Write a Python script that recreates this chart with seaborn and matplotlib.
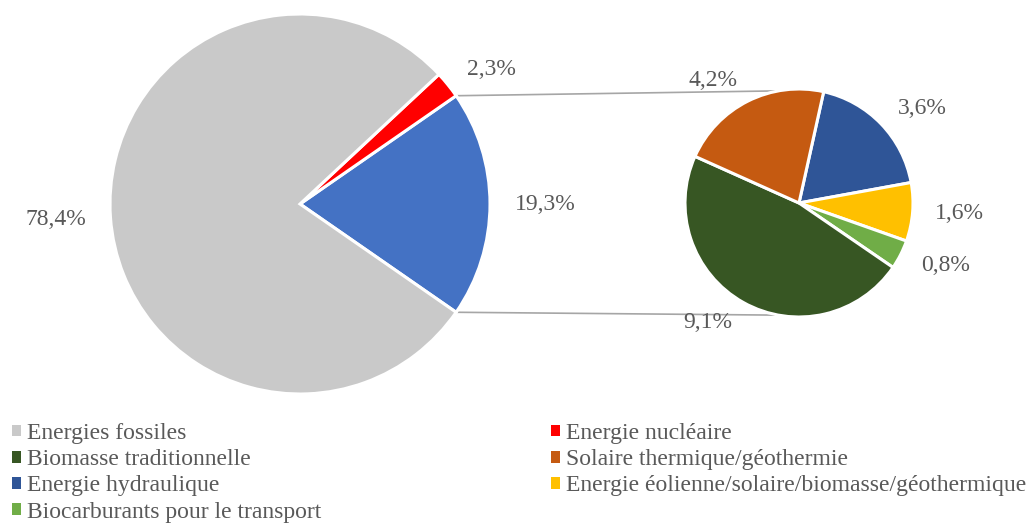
import numpy as np
import matplotlib.pyplot as plt
import seaborn as sns
from matplotlib.patches import Patch

# main pie (counterclockwise from the lower edge of the blue slice)
main_names = ["Autres renouvelables", "Energie nucléaire", "Energies fossiles"]
main_values = [19.3, 2.3, 78.4]
main_colors = ["#4472c4", "#ff0000", "#c9c9c9"]

# secondary pie (breakdown of the 19,3 %), clockwise
sub_names = ["Energie hydraulique",
             "Energie éolienne/solaire/biomasse/géothermique",
             "Biocarburants pour le transport",
             "Biomasse traditionnelle",
             "Solaire thermique/géothermie"]
sub_values = [3.6, 1.6, 0.8, 9.1, 4.2]
sub_colors = ["#2f5597", "#ffc000", "#70ad47", "#375623", "#c55a11"]

left_legend = ["Energies fossiles", "Biomasse traditionnelle",
               "Energie hydraulique", "Biocarburants pour le transport"]
right_legend = ["Energie nucléaire", "Solaire thermique/géothermie",
                "Energie éolienne/solaire/biomasse/géothermique"]

sns.set_style("white")
plt.rcParams['font.family'] = ['Liberation Serif', 'DejaVu Serif']
txt_color = "#595959"
fs = 17

def fmt(v):
    return f"{v:.1f}%".replace(".", ",")

color_of = dict(zip(main_names + sub_names, main_colors + sub_colors))

fig = plt.figure(figsize=(10.33, 5.23), dpi=100)
ax = fig.add_axes([0, 0, 1, 1])

W, H = 1033, 523
c1, r1 = (300, H - 204), 190
c2, r2 = (799, H - 203), 114

blue_angle = main_values[0] * 3.6
_, t1 = ax.pie(main_values, colors=main_colors, labels=[fmt(v) for v in main_values],
               startangle=-blue_angle / 2, center=c1, radius=r1, labeldistance=1.13,
               wedgeprops=dict(edgecolor="white", linewidth=2.2),
               textprops=dict(color=txt_color, fontsize=fs))

_, t2 = ax.pie(sub_values, colors=sub_colors, labels=[fmt(v) for v in sub_values],
               startangle=77.5, counterclock=False, center=c2, radius=r2,
               labeldistance=1.2,
               wedgeprops=dict(edgecolor="white", linewidth=2.2),
               textprops=dict(color=txt_color, fontsize=fs))

# align labels relative to each pie's own centre
for texts, c in ((t1, c1), (t2, c2)):
    for t in texts:
        t.set_ha("right" if t.get_position()[0] < c[0] else "left")

# connector lines
a = np.deg2rad(blue_angle / 2)
off = 0.18 * r2
dy2 = np.sqrt(r2 ** 2 - off ** 2)
for s in (1, -1):
    ax.plot([c1[0] + r1 * np.cos(a), c2[0] - off],
            [c1[1] + s * r1 * np.sin(a), c2[1] + s * dy2],
            color="#a6a6a6", lw=1.2, zorder=0)

ax.set_xlim(0, W)
ax.set_ylim(0, H)
ax.set_aspect("equal")
ax.axis("off")

def handles(names):
    return [Patch(facecolor=color_of[n], edgecolor="none") for n in names]

kw = dict(frameon=False, fontsize=fs, labelcolor=txt_color, handlelength=0.38,
          handleheight=0.38, handletextpad=0.25, labelspacing=0.22,
          borderpad=0, borderaxespad=0, loc="upper left")
leg1 = fig.legend(handles(left_legend), left_legend,
                  bbox_to_anchor=(12 / W, 1 - 423 / H), **kw)
fig.legend(handles(right_legend), right_legend,
           bbox_to_anchor=(551 / W, 1 - 423 / H), **kw)

fig.savefig("out.png", dpi=100)
